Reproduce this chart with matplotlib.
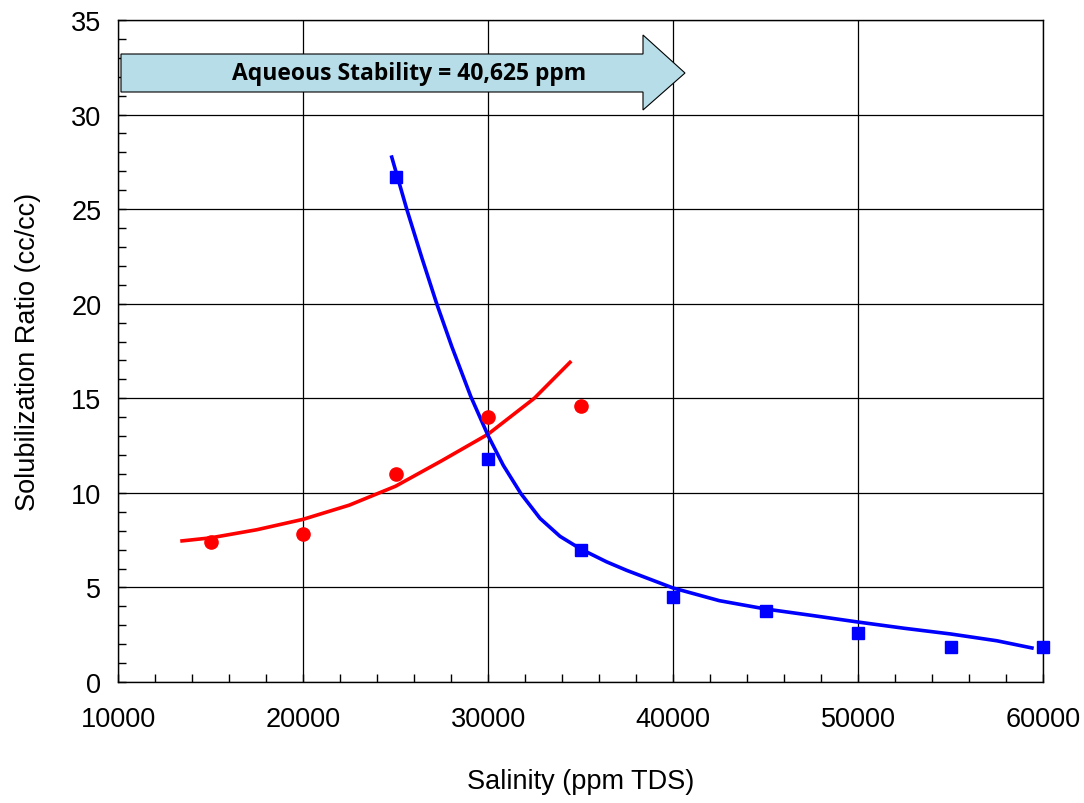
import numpy as np
import matplotlib.pyplot as plt
from matplotlib.patches import Polygon
from matplotlib.ticker import MultipleLocator

plt.rcParams['font.family'] = ['Liberation Sans', 'DejaVu Sans']

# measured points
red_x = [15000, 20000, 25000, 30000, 35000]
red_y = [7.4, 7.8, 11.0, 14.0, 14.6]
blue_x = [25000, 30000, 35000, 40000, 45000, 50000, 55000, 60000]
blue_y = [26.7, 11.8, 7.0, 4.5, 3.75, 2.6, 1.85, 1.85]

# trend curves
red_fit_x = [13460, 15000, 17500, 20000, 22500, 25000, 27500, 30000, 32500, 34430]
red_fit_y = [7.46, 7.62, 8.05, 8.6, 9.35, 10.35, 11.7, 13.1, 15.0, 16.9]
blue_fit_x = [24795, 25605, 26415, 27225, 28035, 29065, 30015, 30827, 31784, 32811,
              33892, 35010, 36415, 37500, 40000, 42500, 45000, 47500, 50000, 52500,
              55000, 57500, 59400]
blue_fit_y = [27.75, 25.0, 22.45, 20.0, 17.75, 15.1, 13.0, 11.45, 9.95, 8.65,
              7.7, 7.03, 6.35, 5.9, 4.97, 4.3, 3.86, 3.52, 3.17, 2.84,
              2.54, 2.18, 1.8]

arrow_text = "Aqueous Stability = 40,625 ppm"

fig = plt.figure(figsize=(10.84, 8.04), dpi=100)
ax = fig.add_axes([0.1089, 0.1505, 0.8533, 0.8234])

ax.plot(red_fit_x, red_fit_y, color='red', lw=2.6, zorder=3, solid_joinstyle='round')
ax.plot(blue_fit_x, blue_fit_y, color='blue', lw=2.6, zorder=3, solid_joinstyle='round')
ax.plot(red_x, red_y, 'o', color='red', ms=9.5, zorder=4, clip_on=False)
ax.plot(blue_x, blue_y, 's', color='blue', ms=9, zorder=4, clip_on=False)

ax.set_xlim(10000, 60000)
ax.set_ylim(0, 35)
ax.xaxis.set_major_locator(MultipleLocator(10000))
ax.xaxis.set_minor_locator(MultipleLocator(2000))
ax.yaxis.set_major_locator(MultipleLocator(5))
ax.yaxis.set_minor_locator(MultipleLocator(1))
ax.grid(True, which='major', color='black', lw=0.9)
ax.tick_params(which='both', direction='in', labelsize=19.5)
ax.tick_params(which='major', length=6, width=1)
ax.tick_params(which='minor', length=6, width=1)
ax.tick_params(axis='x', pad=17)
ax.tick_params(axis='y', pad=12)
for s in ax.spines.values():
    s.set_color('black')
    s.set_linewidth(1)

ax.set_xlabel("Salinity (ppm TDS)", fontsize=19.5, labelpad=26)
ax.set_ylabel("Solubilization Ratio (cc/cc)", fontsize=19.5, labelpad=22)

# block arrow, pixel positions converted to figure fraction
W, H = 1084.0, 804.0
pts = [(121, 55), (643, 55), (643, 36), (685, 74), (643, 111), (643, 93), (121, 93)]
pts = [(px / W, 1 - py / H) for px, py in pts]
arrow = Polygon(pts, closed=True, facecolor='#B7DEE8', edgecolor='black', lw=0.8,
                transform=fig.transFigure, zorder=5)
fig.patches.append(arrow)
fig.text(409 / W, 1 - 74 / H, arrow_text, ha='center', va='center',
         fontsize=16.5, fontweight='bold', family=['Open Sans', 'DejaVu Sans'], zorder=6)

fig.savefig("out.png", dpi=100)
